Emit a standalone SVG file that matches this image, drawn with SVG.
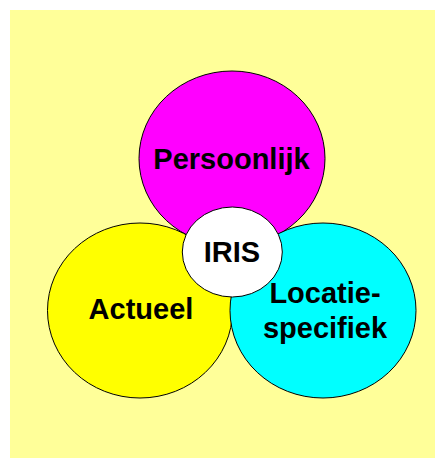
<svg xmlns="http://www.w3.org/2000/svg" width="435" height="458" viewBox="0 0 435 458">
<style>
.c{stroke:#000;stroke-width:1}
.t{font-family:"Liberation Sans",Arial,sans-serif;font-weight:bold;font-size:29px;fill:#000;text-anchor:middle}
</style>
<rect x="10" y="10" width="425" height="448" fill="#FFFF99"/>
<g id="persoonlijk">
<ellipse class="c" cx="232" cy="158.5" rx="93" ry="87.5" fill="#FF00FF"/>
<text class="t" x="231.5" y="169">Persoonlijk</text>
</g>
<g id="actueel">
<ellipse class="c" cx="140" cy="310.5" rx="92.5" ry="87.5" fill="#FFFF00"/>
<text class="t" x="141" y="319">Actueel</text>
</g>
<g id="locatiespecifiek">
<ellipse class="c" cx="323" cy="310.5" rx="93" ry="87.5" fill="#00FFFF"/>
<text class="t" x="325" y="303">Locatie-</text>
<text class="t" x="325" y="338">specifiek</text>
</g>
<g id="iris">
<ellipse class="c" cx="232.3" cy="252" rx="50" ry="45" fill="#FFFFFF"/>
<text class="t" x="232" y="262">IRIS</text>
</g>
<g id="connectors"/>
</svg>
